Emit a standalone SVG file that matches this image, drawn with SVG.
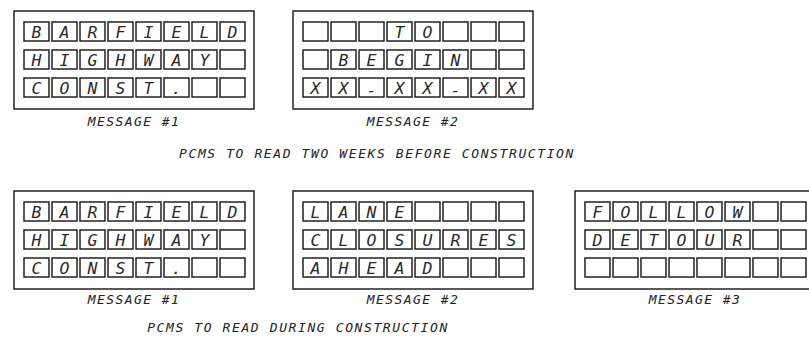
<svg xmlns="http://www.w3.org/2000/svg" xmlns:xlink="http://www.w3.org/1999/xlink" width="809" height="337" viewBox="0 0 809 337">
<style>
.frame{fill:#fff;stroke:#222;stroke-width:1.5}
.cell{fill:none;stroke:#222;stroke-width:1.5}
.ch{font-family:"DejaVu Sans Mono","Liberation Mono",monospace;font-style:oblique;font-size:16.5px;fill:#2a2a2a;text-anchor:middle}
.lbl{font-family:"DejaVu Sans Mono","Liberation Mono",monospace;font-style:oblique;font-size:13px;letter-spacing:1.4px;fill:#222;text-anchor:middle}
.cap{font-family:"DejaVu Sans Mono","Liberation Mono",monospace;font-style:oblique;font-size:13px;letter-spacing:1.6px;fill:#222;text-anchor:middle}
</style>
<defs>
<g id="row">
<rect class="cell" x="10" y="0" width="25" height="19"/>
<rect class="cell" x="38" y="0" width="25" height="19"/>
<rect class="cell" x="66" y="0" width="25" height="19"/>
<rect class="cell" x="94" y="0" width="25" height="19"/>
<rect class="cell" x="122" y="0" width="25" height="19"/>
<rect class="cell" x="150" y="0" width="25" height="19"/>
<rect class="cell" x="178" y="0" width="25" height="19"/>
<rect class="cell" x="206" y="0" width="25" height="19"/>
</g>
<g id="board">
<rect class="frame" x="0" y="0" width="240" height="98"/>
<use xlink:href="#row" y="11"/>
<use xlink:href="#row" y="39"/>
<use xlink:href="#row" y="67"/>
</g>
</defs>

<g id="top-message-1" transform="translate(14,11)">
<use xlink:href="#board"/>
<text class="ch" x="22.5 50.5 78.5 106.5 134.5 162.5 190.5 218.5" y="26.5">BARFIELD</text>
<text class="ch" x="22.5 50.5 78.5 106.5 134.5 162.5 190.5" y="54.5">HIGHWAY</text>
<text class="ch" x="22.5 50.5 78.5 106.5 134.5 162.5" y="82.5">CONST.</text>
<text class="lbl" x="120" y="115">MESSAGE #1</text>
</g>

<g id="top-message-2" transform="translate(293,11)">
<use xlink:href="#board"/>
<text class="ch" x="106.5 134.5" y="26.5">TO</text>
<text class="ch" x="50.5 78.5 106.5 134.5 162.5" y="54.5">BEGIN</text>
<text class="ch" x="22.5 50.5" y="82.5">XX</text>
<text class="ch" x="78.5" y="84.5">-</text>
<text class="ch" x="106.5 134.5" y="82.5">XX</text>
<text class="ch" x="162.5" y="84.5">-</text>
<text class="ch" x="190.5 218.5" y="82.5">XX</text>
<text class="lbl" x="120" y="115">MESSAGE #2</text>
</g>

<text id="caption-1" class="cap" x="377" y="158">PCMS TO READ TWO WEEKS BEFORE CONSTRUCTION</text>

<g id="bottom-message-1" transform="translate(14,191)">
<use xlink:href="#board"/>
<text class="ch" x="22.5 50.5 78.5 106.5 134.5 162.5 190.5 218.5" y="26.5">BARFIELD</text>
<text class="ch" x="22.5 50.5 78.5 106.5 134.5 162.5 190.5" y="54.5">HIGHWAY</text>
<text class="ch" x="22.5 50.5 78.5 106.5 134.5 162.5" y="82.5">CONST.</text>
<text class="lbl" x="120" y="113">MESSAGE #1</text>
</g>

<g id="bottom-message-2" transform="translate(293,191)">
<use xlink:href="#board"/>
<text class="ch" x="22.5 50.5 78.5 106.5" y="26.5">LANE</text>
<text class="ch" x="22.5 50.5 78.5 106.5 134.5 162.5 190.5 218.5" y="54.5">CLOSURES</text>
<text class="ch" x="22.5 50.5 78.5 106.5 134.5" y="82.5">AHEAD</text>
<text class="lbl" x="120" y="113">MESSAGE #2</text>
</g>

<g id="bottom-message-3" transform="translate(575,191)">
<use xlink:href="#board"/>
<text class="ch" x="22.5 50.5 78.5 106.5 134.5 162.5" y="26.5">FOLLOW</text>
<text class="ch" x="22.5 50.5 78.5 106.5 134.5 162.5" y="54.5">DETOUR</text>
<text class="lbl" x="120" y="113">MESSAGE #3</text>
</g>

<text id="caption-2" class="cap" x="298" y="332">PCMS TO READ DURING CONSTRUCTION</text>
</svg>
